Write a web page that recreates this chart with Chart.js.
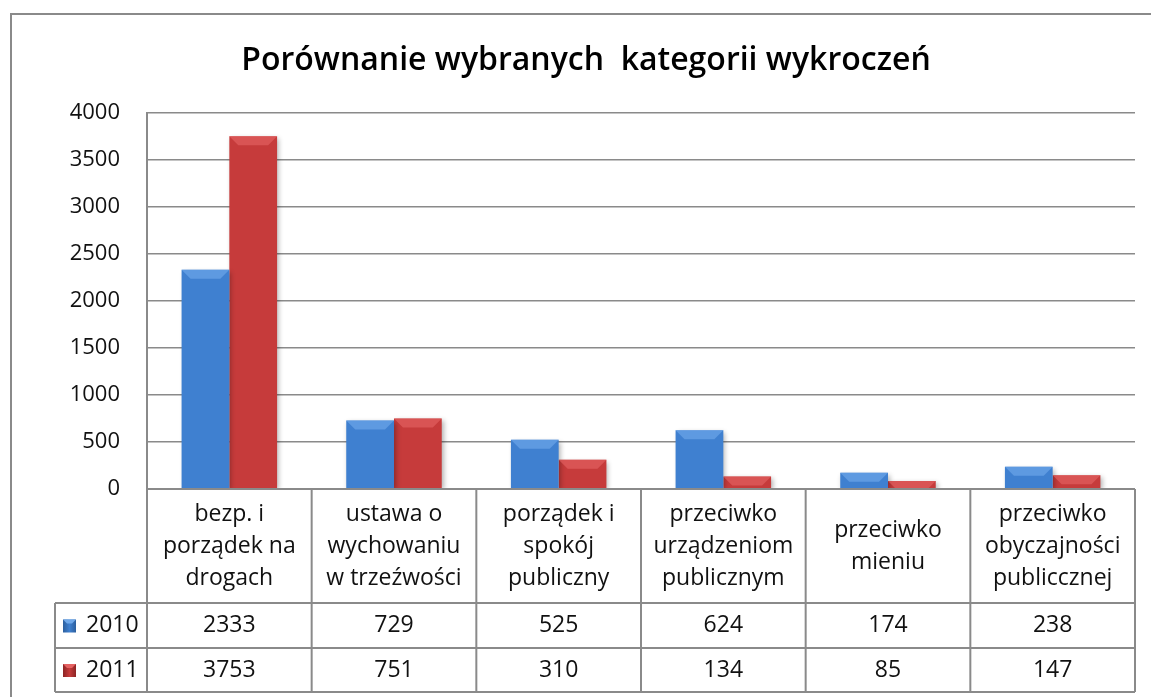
<!DOCTYPE html>
<html>
<head>
<meta charset="utf-8">
<script src="https://cdn.jsdelivr.net/npm/chart.js@4"></script>
<style>
    html, body { margin: 0; padding: 0; background: #fff; }
    #wrap { width: 1151px; height: 697px; position: relative; }
</style>
</head>
<body>
<div id="wrap"><canvas id="offenceChart" width="1151" height="697"></canvas></div>
<script>
// data
const chartTitle = "Porównanie wybranych  kategorii wykroczeń";
const categories = [
    ["bezp. i", "porządek na", "drogach"],
    ["ustawa o", "wychowaniu", "w trzeźwości"],
    ["porządek i", "spokój", "publiczny"],
    ["przeciwko", "urządzeniom", "publicznym"],
    ["przeciwko", "mieniu"],
    ["przeciwko", "obyczajności", "publiccznej"]
];
const seriesNames = ["2010", "2011"];
const values2010 = [2333, 729, 525, 624, 174, 238];
const values2011 = [3753, 751, 310, 134, 85, 147];
const yTicks = [0, 500, 1000, 1500, 2000, 2500, 3000, 3500, 4000];

const FONT = "'Open Sans', 'Noto Sans', sans-serif";
const LINE = "#8a8a8a";

// colours for the bevelled bars: [edge, middle, top highlight]
const palette = {
    "2010": ["#2c5f9e", "#3f80d0", "#6fa8ea"],
    "2011": ["#8c2424", "#c63b3b", "#e46262"]
};

function barGradient(ctx, name) {
    const el = ctx.element;
    if (!el || el.x === undefined) return palette[name][1];
    const half = el.width / 2;
    const g = ctx.chart.ctx.createLinearGradient(el.x - half, 0, el.x + half, 0);
    const c = palette[name];
    g.addColorStop(0, c[0]);
    g.addColorStop(0.1, c[1]);
    g.addColorStop(0.88, c[1]);
    g.addColorStop(1, c[0]);
    return g;
}

// title, outer frame, bar bevels and the data table under the plot
const tablePlugin = {
    id: "tablePlugin",
    beforeDatasetsDraw(chart) {
        const ctx = chart.ctx;
        ctx.save();
        ctx.shadowColor = "rgba(0,0,0,0.3)";
        ctx.shadowBlur = 5;
        ctx.shadowOffsetX = 2;
        ctx.shadowOffsetY = 2;
    },
    afterDatasetsDraw(chart) {
        const ctx = chart.ctx;
        ctx.restore();
        chart.data.datasets.forEach((ds, i) => {
            const c = palette[ds.label];
            chart.getDatasetMeta(i).data.forEach((bar) => {
                const left = bar.x - bar.width / 2;
                const right = bar.x + bar.width / 2;
                const h = Math.min(9, bar.base - bar.y);
                ctx.save();
                ctx.fillStyle = c[2];
                ctx.beginPath();
                ctx.moveTo(left, bar.y);
                ctx.lineTo(right, bar.y);
                ctx.lineTo(right - h, bar.y + h);
                ctx.lineTo(left + h, bar.y + h);
                ctx.closePath();
                ctx.globalAlpha = 0.65;
                ctx.fill();
                ctx.restore();
            });
        });
    },
    afterDraw(chart) {
        const ctx = chart.ctx;
        const area = chart.chartArea;
        const x = chart.scales.x;
        const n = categories.length;
        const step = (area.right - area.left) / n;
        const rowTop = area.bottom;
        const rowCat = rowTop + 114;
        const row1 = rowCat + 45;
        const row2 = row1 + 44;
        const labelLeft = 55;

        ctx.save();
        // outer frame
        ctx.strokeStyle = LINE;
        ctx.lineWidth = 2;
        ctx.beginPath();
        ctx.moveTo(11, 700);
        ctx.lineTo(11, 14);
        ctx.lineTo(1160, 14);
        ctx.stroke();

        // title
        ctx.fillStyle = "#000";
        ctx.font = "600 32px " + FONT;
        ctx.textAlign = "center";
        ctx.textBaseline = "middle";
        ctx.fillText(chartTitle, 586, 61);

        // table grid
        ctx.beginPath();
        ctx.moveTo(area.left, rowTop);
        ctx.lineTo(area.right, rowTop);
        [rowCat, row1, row2].forEach((y) => {
            ctx.moveTo(labelLeft, y);
            ctx.lineTo(area.right, y);
        });
        for (let i = 0; i <= n; i++) {
            const vx = area.left + step * i;
            ctx.moveTo(vx, rowTop);
            ctx.lineTo(vx, row2);
        }
        ctx.moveTo(labelLeft, rowCat);
        ctx.lineTo(labelLeft, row2);
        ctx.stroke();

        // category labels
        ctx.font = "23px " + FONT;
        ctx.fillStyle = "#111";
        categories.forEach((lines, i) => {
            const cx = x.getPixelForValue(i);
            const mid = (rowTop + rowCat) / 2;
            const top = mid - (lines.length - 1) * 32 / 2;
            lines.forEach((t, k) => ctx.fillText(t, cx, top + k * 32));
        });

        // value rows with legend keys
        const rows = [[values2010, rowCat, row1], [values2011, row1, row2]];
        rows.forEach(([vals, y0, y1], r) => {
            const cy = (y0 + y1) / 2;
            ctx.textAlign = "center";
            ctx.fillStyle = "#111";
            vals.forEach((v, i) => ctx.fillText(String(v), x.getPixelForValue(i), cy));
            const c = palette[seriesNames[r]];
            const g = ctx.createLinearGradient(63, 0, 76, 0);
            g.addColorStop(0, c[0]);
            g.addColorStop(0.5, c[1]);
            g.addColorStop(1, c[0]);
            ctx.fillStyle = g;
            ctx.fillRect(63, cy - 6, 13, 13);
            ctx.fillStyle = c[2];
            ctx.beginPath();
            ctx.moveTo(63, cy - 6);
            ctx.lineTo(76, cy - 6);
            ctx.lineTo(72, cy - 2);
            ctx.lineTo(67, cy - 2);
            ctx.closePath();
            ctx.fill();
            ctx.fillStyle = "#111";
            ctx.textAlign = "left";
            ctx.fillText(seriesNames[r], 86, cy);
        });
        ctx.restore();
    }
};

const offenceChart = new Chart(document.getElementById("offenceChart"), {
    type: "bar",
    data: {
        labels: categories.map((c) => c.join(" ")),
        datasets: [
            {
                label: seriesNames[0],
                data: values2010,
                backgroundColor: (ctx) => barGradient(ctx, "2010"),
                borderWidth: 0
            },
            {
                label: seriesNames[1],
                data: values2011,
                backgroundColor: (ctx) => barGradient(ctx, "2011"),
                borderWidth: 0
            }
        ]
    },
    options: {
        responsive: false,
        animation: false,
        layout: { padding: { left: 0, right: 16, top: 113, bottom: 208 } },
        datasets: { bar: { categoryPercentage: 0.58, barPercentage: 1 } },
        plugins: {
            legend: { display: false },
            title: { display: false },
            tooltip: { enabled: false }
        },
        scales: {
            x: { display: false },
            y: {
                min: 0,
                max: 4000,
                afterFit(scale) { scale.width = 147; },
                afterBuildTicks(scale) { scale.ticks = yTicks.map((v) => ({ value: v })); },
                ticks: {
                    padding: 27,
                    color: "#111",
                    font: { family: FONT, size: 22 },
                    callback: (v) => String(v)
                },
                grid: { color: LINE, lineWidth: 1.5, drawTicks: false },
                border: { color: LINE, width: 2 }
            }
        }
    },
    plugins: [tablePlugin]
});
</script>
</body>
</html>
